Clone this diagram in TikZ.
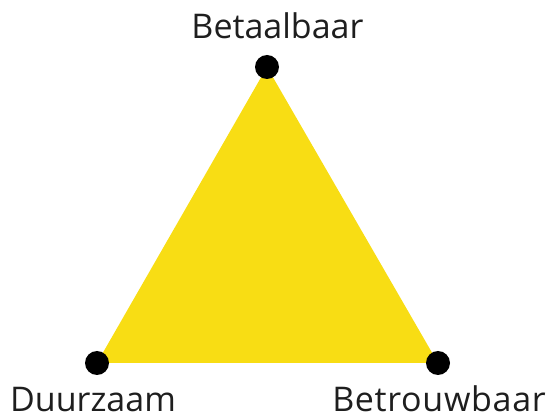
\documentclass[tikz,border=0pt]{standalone}
\usepackage{fontspec}
\setmainfont{Open Sans}
\newfontfamily\spaced[LetterSpace=2]{Open Sans}
\definecolor{tri}{HTML}{F8DD14}
\definecolor{txt}{HTML}{1E1E1E}
\begin{document}
\begin{tikzpicture}[x=1pt,y=-1pt,
  dot/.style={circle,fill=black,inner sep=0pt,minimum size=24pt},
  lab/.style={text=txt,font=\fontsize{34}{40}\selectfont,inner sep=0pt,anchor=base}]
\useasboundingbox (0,0) rectangle (547,414);
\coordinate (t) at (267,67);
\coordinate (l) at (97,363);
\coordinate (r) at (438,363);
\fill[tri] (t) -- (l) -- (r) -- cycle;
\node[dot] (dt) at (t) {};
\node[dot] (dl) at (l) {};
\node[dot] (dr) at (r) {};
\node[lab] (bt) at (277.5,39) {Betaalbaar};
\node[lab] (bl) at (93,412) {Duurzaam};
\node[lab] (br) at (439,412) {\spaced Betrouwbaar};
\end{tikzpicture}
\end{document}
